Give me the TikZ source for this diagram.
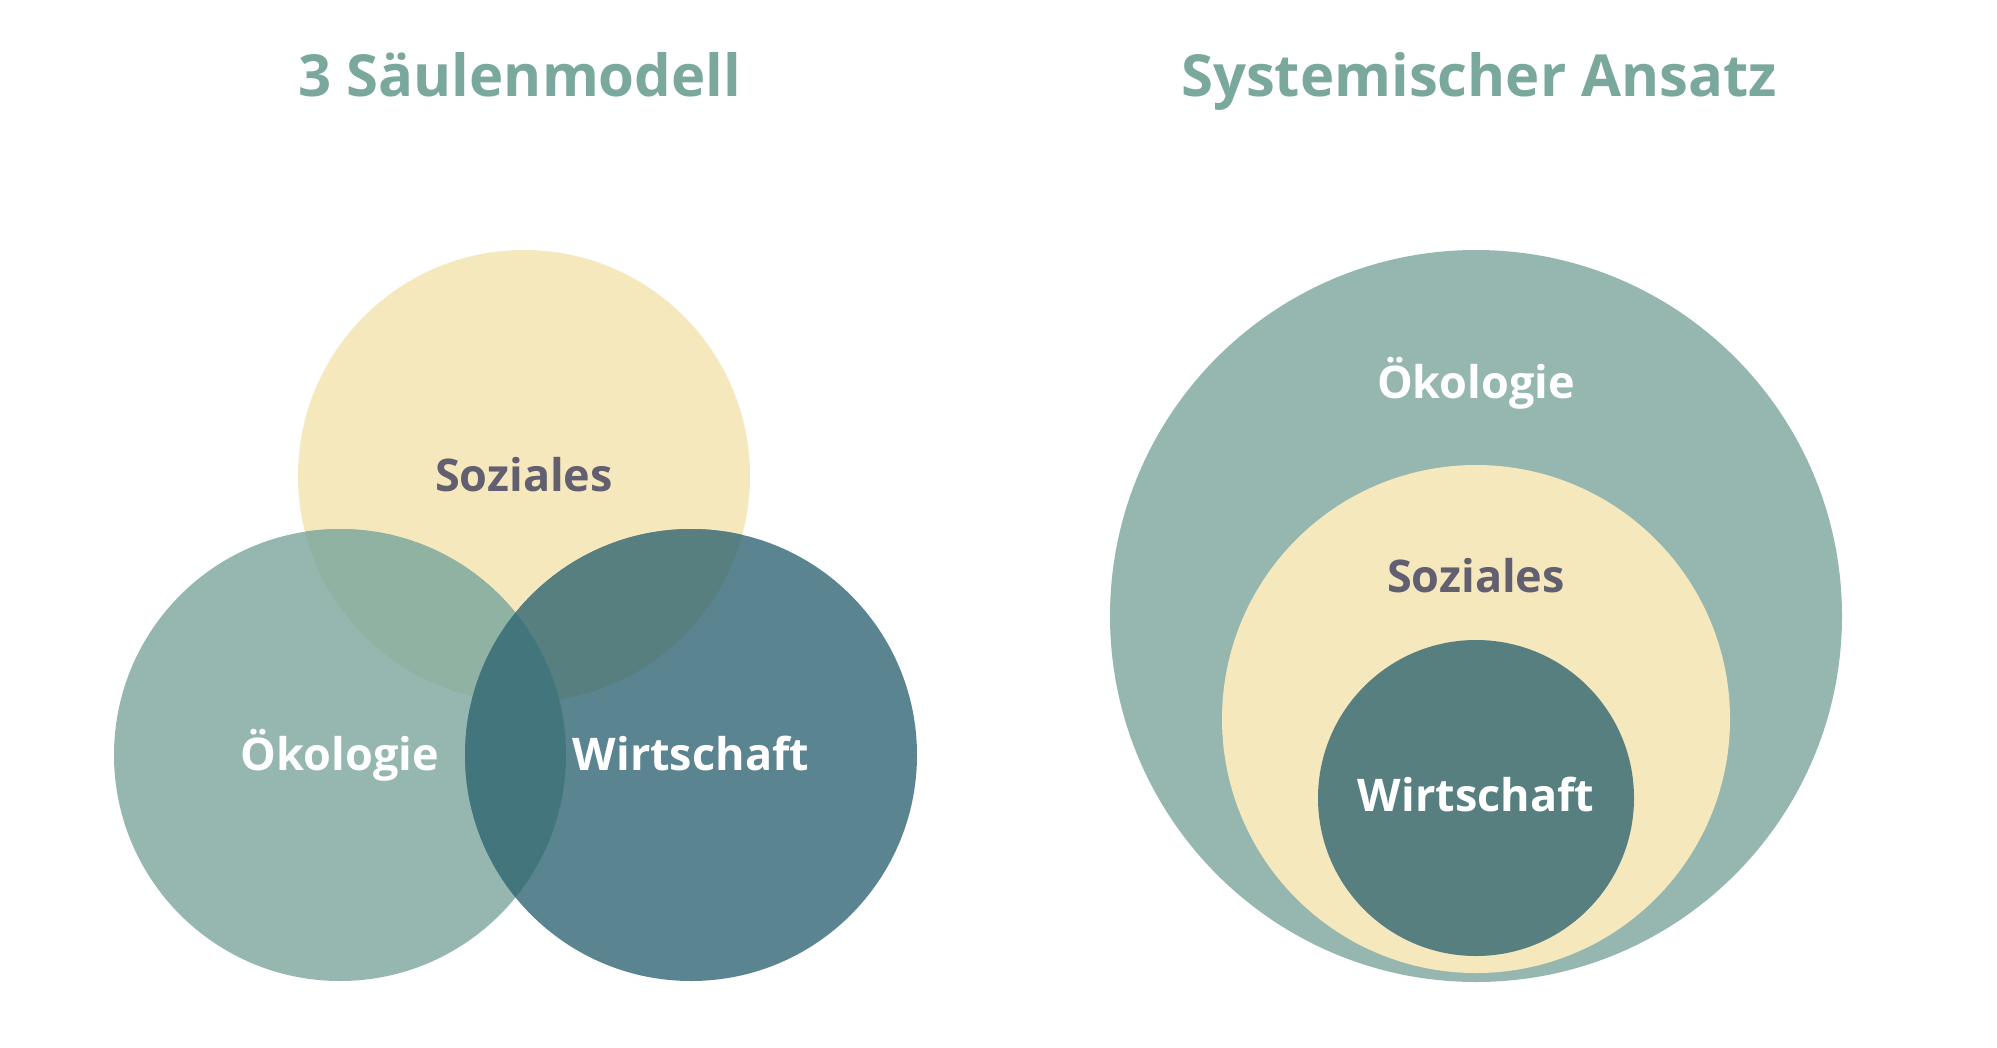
\documentclass[tikz,border=0pt]{standalone}
\usepackage{fontspec}
\setmainfont{Open Sans}
\definecolor{cY}{HTML}{F5E8BD}
\definecolor{cOe}{HTML}{95B7AF}
\definecolor{cW}{HTML}{5A8490}
\definecolor{cYOe}{HTML}{8FB2A2}
\definecolor{cYW}{HTML}{577F80}
\definecolor{cOeW}{HTML}{43757D}
\definecolor{cInner}{HTML}{577F80}
\definecolor{cTitle}{HTML}{7BA89C}
\definecolor{cSoz}{HTML}{625F70}
\tikzset{
  titletext/.style={text=cTitle, font=\bfseries\fontsize{58}{66}\selectfont, anchor=base, inner sep=0pt},
  lbl/.style={font=\bfseries\fontsize{45}{52}\selectfont, anchor=base, inner sep=0pt},
  lblw/.style={lbl, text=white},
  lbld/.style={lbl, text=cSoz}
}
\begin{document}
\begin{tikzpicture}[x=1pt,y=-1pt]
\useasboundingbox (0,0) rectangle (1997,1047);
% left: three circles
\def\R{226}
\fill[cY] (524,476) circle (\R);
\fill[cOe] (340,755) circle (\R);
\fill[cW] (691,755) circle (\R);
\begin{scope}
  \clip (524,476) circle (\R);
  \fill[cYOe] (340,755) circle (\R);
  \fill[cYW] (691,755) circle (\R);
\end{scope}
\begin{scope}
  \clip (340,755) circle (\R);
  \fill[cOeW] (691,755) circle (\R);
\end{scope}
% right: nested circles
\fill[cOe] (1476,616) circle (366);
\fill[cY] (1476,719) circle (254);
\fill[cInner] (1476,798) circle (158);
% titles
\node[titletext] (t1) at (520,96) {3 Säulenmodell};
\node[titletext] (t2) at (1479,96) {Systemischer Ansatz};
% labels left
\node[lbld] (sozL) at (524,491) {Soziales};
\node[lblw] (oekL) at (340,770) {Ökologie};
\node[lblw] (wirL) at (691,770) {Wirtschaft};
% labels right
\node[lblw] (oekR) at (1476,398) {Ökologie};
\node[lbld] (sozR) at (1476,592) {Soziales};
\node[lblw] (wirR) at (1476,811) {Wirtschaft};
\end{tikzpicture}
\end{document}
